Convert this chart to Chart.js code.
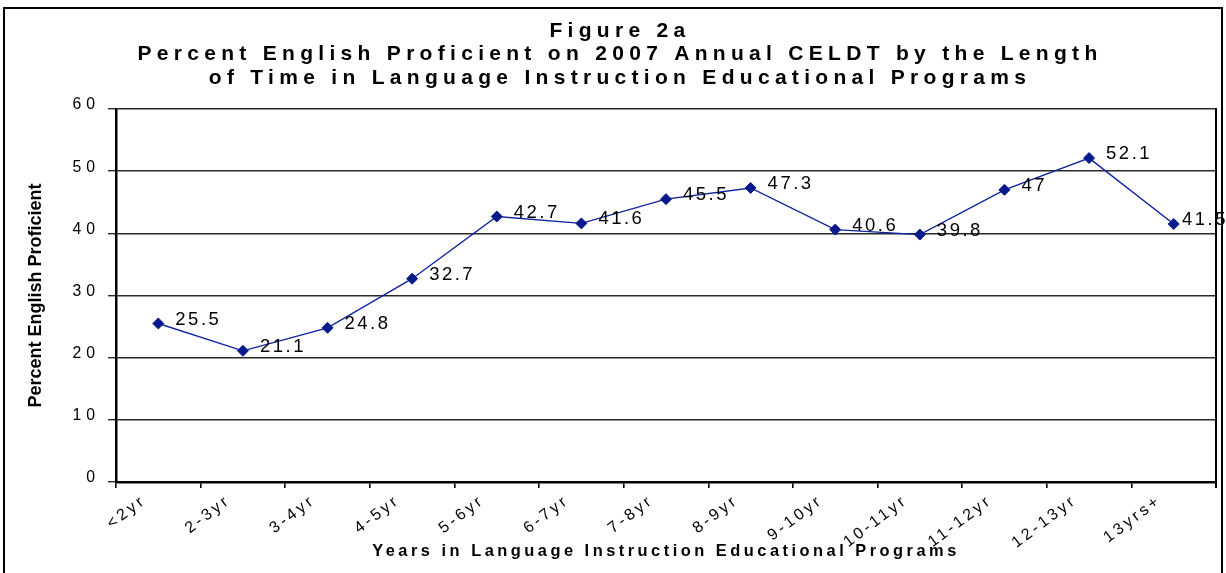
<!DOCTYPE html>
<html><head><meta charset="utf-8">
<script src="https://cdn.jsdelivr.net/npm/chart.js@4.4.1/dist/chart.umd.min.js"></script>
<style>
html,body{margin:0;padding:0;background:#fff;}
#wrap{position:relative;width:1226px;height:573px;overflow:hidden;background:#fff;}
#c{position:absolute;left:0;top:0;}
#frame{position:absolute;left:3px;top:7px;width:1220px;height:620px;border:2px solid #000;box-sizing:border-box;pointer-events:none;}
</style></head><body>
<div id="wrap"><canvas id="c" width="1226" height="573"></canvas><div id="frame"></div></div>
<script>
// ---- data ----
const categories = ['<2yr','2-3yr','3-4yr','4-5yr','5-6yr','6-7yr','7-8yr','8-9yr','9-10yr','10-11yr','11-12yr','12-13yr','13yrs+'];
const percentProficient = [25.5, 21.1, 24.8, 32.7, 42.7, 41.6, 45.5, 47.3, 40.6, 39.8, 47, 52.1, 41.5];
const yTickValues = [0, 10, 20, 30, 40, 50, 60];
const titleLines = ['Figure 2a', 'Percent English Proficient on 2007 Annual CELDT by the Length', 'of Time in Language Instruction Educational Programs'];
const xAxisTitle = 'Years in Language Instruction Educational Programs';
const yAxisTitle = 'Percent English Proficient';

// ---- styling ----
const FAM = "'Liberation Sans', Arial, sans-serif";
// letter spacing per font size (px) — styling only
const spacingBySize = {'21': 5.3, '15.8': 5, '16': 3.2, '16.4': 3.5, '18': 0, '18.5': 2.5};

const canvas = document.getElementById('c');
const ctx = canvas.getContext('2d');
const fontDesc = Object.getOwnPropertyDescriptor(CanvasRenderingContext2D.prototype, 'font');
Object.defineProperty(ctx, 'font', {
  configurable: true,
  get() { return fontDesc.get.call(this); },
  set(v) {
    fontDesc.set.call(this, v);
    const m = /(\d+(?:\.\d+)?)px/.exec(v);
    const sp = m && spacingBySize[m[1]] !== undefined ? spacingBySize[m[1]] : 0;
    if ('letterSpacing' in this) this.letterSpacing = sp + 'px';
  }
});

const frameBorderPlugin = {
  id: 'plotRightBorder',
  beforeDatasetsDraw(chart) {
    const a = chart.chartArea, c = chart.ctx;
    c.save();
    c.strokeStyle = '#000';
    c.lineWidth = 2;
    c.beginPath();
    c.moveTo(a.right, a.top - 1);
    c.lineTo(a.right, a.bottom + 6);
    c.stroke();
    c.restore();
  }
};

const valueLabelPlugin = {
  id: 'valueLabels',
  afterDatasetsDraw(chart) {
    const c = chart.ctx;
    const meta = chart.getDatasetMeta(0);
    const vals = chart.data.datasets[0].data;
    c.save();
    c.font = '18.5px ' + FAM;
    c.fillStyle = '#000';
    c.textAlign = 'left';
    c.textBaseline = 'middle';
    meta.data.forEach((pt, i) => {
      const txt = String(vals[i]);
      const w = c.measureText(txt).width;
      let x = pt.x + 17;
      x = Math.min(x, chart.width - w + 2);
      c.fillText(txt, x, pt.y - 4);
    });
    c.restore();
  }
};

new Chart(ctx, {
  type: 'line',
  data: {
    labels: categories,
    datasets: [{
      data: percentProficient,
      borderColor: '#1024A0',
      borderWidth: 1.4,
      pointStyle: 'rectRot',
      pointRadius: 5.5,
      pointBackgroundColor: '#061A8C',
      pointBorderColor: '#061A8C',
      pointBorderWidth: 1,
      tension: 0,
      fill: false
    }]
  },
  options: {
    responsive: false,
    animation: false,
    devicePixelRatio: 1,
    layout: { padding: { left: 24, right: 10, top: 0, bottom: 6 } },
    plugins: {
      legend: { display: false },
      tooltip: { enabled: false },
      title: {
        display: true,
        text: titleLines,
        color: '#000',
        font: { family: FAM, size: 21, weight: 'bold', lineHeight: 1.119 },
        padding: { top: 19.25, bottom: 19.25 }
      }
    },
    scales: {
      x: {
        type: 'category',
        offset: true,
        grid: { display: true, drawOnChartArea: false, drawTicks: true, tickLength: 6, color: '#000', lineWidth: 1.6, offset: true },
        border: { display: true, color: '#000', width: 2.5 },
        ticks: { autoSkip: false, minRotation: 37, maxRotation: 37, color: '#000', font: { family: FAM, size: 16 }, padding: 3, labelOffset: -14 },
        title: { display: true, text: xAxisTitle, color: '#000', font: { family: FAM, size: 16.4, weight: 'bold', lineHeight: 1.2 }, padding: { top: 0, bottom: 6 } },
        afterFit(s) { s.height = 573 - 6 - 482; }
      },
      y: {
        min: 0, max: 60,
        afterBuildTicks(s) { s.ticks = yTickValues.map(v => ({ value: v })); },
        grid: { color: '#2a2a2a', lineWidth: 1.4, drawTicks: true, tickLength: 8 },
        border: { display: true, color: '#000', width: 2.5 },
        ticks: { color: '#000', font: { family: FAM, size: 15.8 }, padding: 8, labelOffset: -4 },
        title: { display: true, text: yAxisTitle, color: '#000', font: { family: FAM, size: 18, weight: 'bold', lineHeight: 1.2 }, padding: { top: 1, bottom: 0 } },
        afterFit(s) { s.width = 116 - 24; }
      }
    }
  },
  plugins: [frameBorderPlugin, valueLabelPlugin]
});
</script>
</body></html>
